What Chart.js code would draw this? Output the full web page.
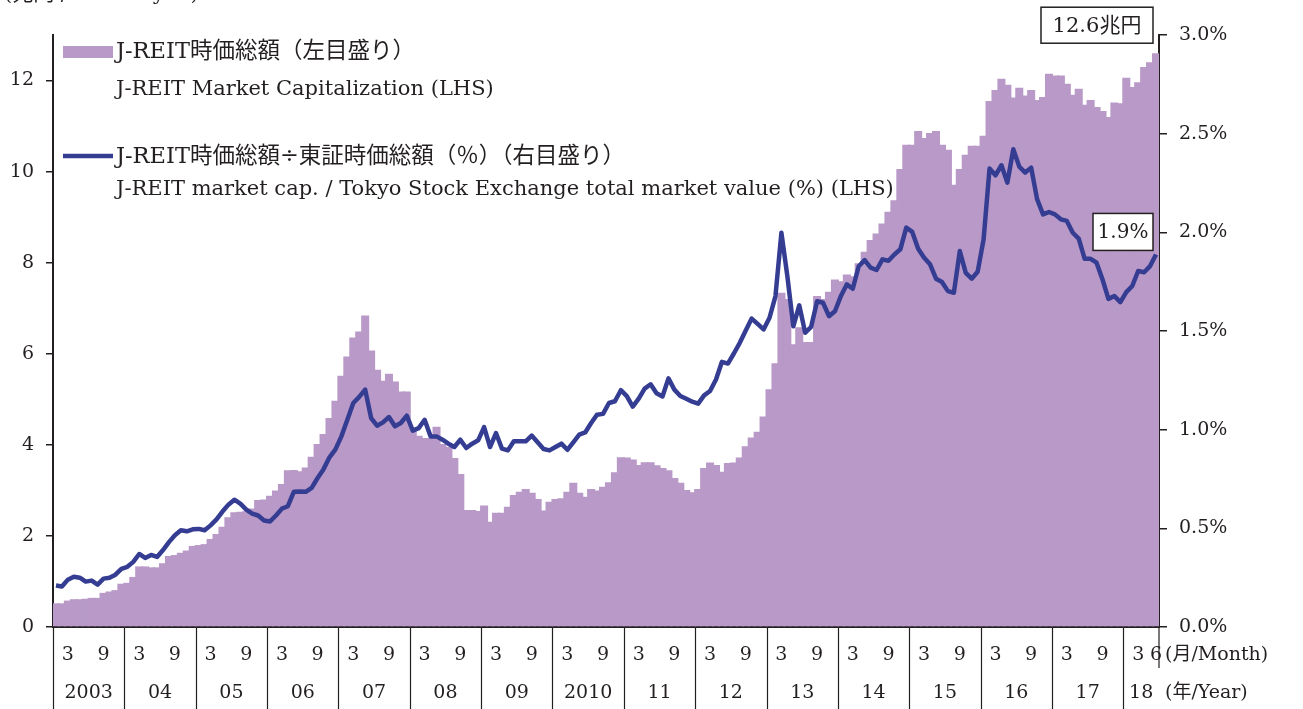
<!DOCTYPE html>
<html>
<head>
<meta charset="utf-8">
<script src="https://cdn.jsdelivr.net/npm/chart.js@4.4.1/dist/chart.umd.min.js"></script>
<style>
  html, body { margin: 0; padding: 0; background: #fff; overflow: hidden; }
</style>
</head>
<body>
<canvas id="chart" width="1303" height="709"></canvas>
<script>
const years = ["2003", "04", "05", "06", "07", "08", "09", "2010", "11", "12", "13", "14", "15", "16", "17", "18"];
const monthsInLastYear = 6;
const markedMonths = [3, 9];

// J-REIT market cap, trillion yen (left axis), Jan 2003 - Jun 2018
const capValues = [
  0.52, 0.52, 0.58, 0.61, 0.61, 0.62, 0.64, 0.64, 0.75, 0.78, 0.81, 0.95,
  0.97, 1.1, 1.33, 1.33, 1.31, 1.31, 1.4, 1.56, 1.58, 1.63, 1.68, 1.78,
  1.8, 1.82, 1.93, 2.04, 2.2, 2.41, 2.52, 2.53, 2.54, 2.6, 2.79, 2.8,
  2.88, 3.0, 3.14, 3.44, 3.45, 3.42, 3.5, 3.74, 4.02, 4.24, 4.59, 4.97,
  5.52, 5.94, 6.36, 6.49, 6.84, 6.07, 5.65, 5.41, 5.56, 5.39, 5.17, 5.17,
  4.3, 4.2, 4.15, 4.15, 4.4, 4.02, 3.95, 3.71, 3.36, 2.57, 2.57, 2.55,
  2.67, 2.31, 2.51, 2.51, 2.64, 2.9, 2.97, 3.03, 2.95, 2.81, 2.56, 2.75,
  2.81, 2.83, 2.97, 3.17, 2.95, 2.86, 3.03, 3.0, 3.08, 3.18, 3.4, 3.73,
  3.72, 3.68, 3.56, 3.62, 3.62, 3.55, 3.49, 3.44, 3.27, 3.17, 3.01, 2.96,
  3.03, 3.49, 3.61, 3.56, 3.41, 3.6, 3.61, 3.72, 3.97, 4.16, 4.29, 4.62,
  5.22, 5.79, 7.34, 7.2, 6.21, 6.58, 6.26, 6.26, 7.27, 7.2, 7.36, 7.63,
  7.59, 7.74, 7.7, 7.99, 8.24, 8.5, 8.64, 8.86, 9.12, 9.37, 10.06, 10.59,
  10.59, 10.89, 10.74, 10.85, 10.89, 10.59, 10.48, 9.71, 10.06, 10.37, 10.57, 10.57,
  10.79, 11.55, 11.79, 12.04, 11.91, 11.63, 11.84, 11.67, 11.79, 11.57, 11.64, 12.15,
  12.11, 12.11, 11.93, 11.69, 11.82, 11.47, 11.57, 11.42, 11.33, 11.2, 11.52, 11.5,
  12.06, 11.86, 11.96, 12.3, 12.4, 12.6
];

// J-REIT cap / TSE total market value, % (right axis)
const ratioValues = [
  0.21, 0.205, 0.24, 0.255, 0.25, 0.23, 0.235, 0.215, 0.245, 0.25, 0.265, 0.295,
  0.305, 0.33, 0.37, 0.35, 0.365, 0.355, 0.39, 0.43, 0.465, 0.49, 0.485, 0.495,
  0.497, 0.49, 0.515, 0.545, 0.585, 0.62, 0.645, 0.625, 0.595, 0.575, 0.565, 0.54,
  0.535, 0.565, 0.6, 0.612, 0.685, 0.687, 0.685, 0.705, 0.755, 0.8, 0.86, 0.9,
  0.966, 1.05, 1.135, 1.166, 1.203, 1.059, 1.02, 1.037, 1.064, 1.017, 1.034, 1.071,
  0.995, 1.008, 1.05, 0.966, 0.966, 0.949, 0.929, 0.912, 0.949, 0.907, 0.929, 0.946,
  1.013, 0.912, 0.983, 0.904, 0.895, 0.941, 0.941, 0.941, 0.97, 0.936, 0.902, 0.895,
  0.912, 0.929, 0.898, 0.936, 0.975, 0.986, 1.034, 1.076, 1.08, 1.135, 1.144, 1.2,
  1.17, 1.117, 1.157, 1.208, 1.23, 1.184, 1.168, 1.26, 1.203, 1.171, 1.157, 1.142,
  1.132, 1.174, 1.196, 1.254, 1.344, 1.335, 1.386, 1.44, 1.503, 1.563, 1.536, 1.508,
  1.567, 1.677, 1.998, 1.778, 1.524, 1.63, 1.491, 1.521, 1.651, 1.643, 1.575, 1.6,
  1.677, 1.736, 1.714, 1.828, 1.859, 1.821, 1.809, 1.863, 1.856, 1.888, 1.914, 2.024,
  2.002, 1.917, 1.871, 1.838, 1.765, 1.748, 1.702, 1.694, 1.905, 1.795, 1.765, 1.8,
  1.964, 2.323, 2.289, 2.34, 2.252, 2.421, 2.333, 2.303, 2.328, 2.168, 2.091, 2.103,
  2.091, 2.066, 2.058, 1.998, 1.968, 1.866, 1.866, 1.846, 1.761, 1.663, 1.677, 1.646,
  1.697, 1.728, 1.804, 1.798, 1.829, 1.888
];

const legendJa = ["J-REIT時価総額（左目盛り）", "J-REIT時価総額÷東証時価総額（％）（右目盛り）"];
const legendEn = ["J-REIT Market Capitalization (LHS)", "J-REIT market cap. / Tokyo Stock Exchange total market value (%) (LHS)"];
const unitLabel = "(兆円 / trillion yen)";
const monthAxisLabel = "(月/Month)";
const yearAxisLabel = "(年/Year)";

const barColor = "#b899c7";
const lineColor = "#353d93";
const ink = "#231f20";
const fontFamily = "'DejaVu Serif', 'Noto Sans CJK JP', serif";

// month labels like 2003/1 ... 2018/6
const monthLabels = [];
years.forEach((y, i) => {
  const full = i === 0 ? 2003 : 2000 + parseInt(y.slice(-2), 10);
  const n = i === years.length - 1 ? monthsInLastYear : 12;
  for (let m = 1; m <= n; m++) monthLabels.push(full + "/" + m);
});

const overlay = {
  id: "overlay",
  afterDraw(chart) {
    const c = chart.ctx;
    const xs = chart.scales.x;
    const yL = chart.scales.yL;
    const yR = chart.scales.yR;
    const area = chart.chartArea;
    const step = xs.getPixelForValue(1) - xs.getPixelForValue(0);
    const last = monthLabels.length - 1;
    c.save();
    c.fillStyle = ink;
    c.strokeStyle = ink;

    // x axis: month marks, year boxes
    c.font = "19px " + fontFamily;
    c.textAlign = "center";
    c.textBaseline = "middle";
    c.lineWidth = 1.2;
    years.forEach((y, i) => {
      const s = i * 12;
      const e = Math.min(s + 12, monthLabels.length);
      const x0 = xs.getPixelForValue(s) - step / 2;
      const x1 = xs.getPixelForValue(e - 1) + step / 2;
      c.beginPath();
      c.moveTo(Math.round(x0) + 0.5, area.bottom);
      c.lineTo(Math.round(x0) + 0.5, 709);
      c.stroke();
      c.fillText(y, (x0 + x1) / 2, 693);
    });
    c.beginPath();
    c.moveTo(area.right, area.bottom);
    c.lineTo(area.right, 668);
    c.stroke();
    monthLabels.forEach((lab, i) => {
      const m = parseInt(lab.split("/")[1], 10);
      if (markedMonths.includes(m) || i === last) {
        c.fillText(String(m), xs.getPixelForValue(i), 655);
      }
    });
    c.textAlign = "left";
    c.fillText(monthAxisLabel, area.right + 6, 655);
    c.fillText(yearAxisLabel, area.right + 6, 693);

    // unit label, cut at top edge
    c.font = "21px " + fontFamily;
    c.fillText(unitLabel, 4, -5);

    // legend
    c.fillStyle = barColor;
    c.fillRect(63, 46, 50, 12);
    c.strokeStyle = lineColor;
    c.lineWidth = 4.5;
    c.beginPath();
    c.moveTo(63, 156);
    c.lineTo(113, 156);
    c.stroke();
    c.fillStyle = ink;
    c.font = "22.5px " + fontFamily;
    c.fillText(legendJa[0], 116, 52);
    c.fillText(legendJa[1], 116, 157);
    c.font = "21px " + fontFamily;
    c.fillText(legendEn[0], 116, 90);
    c.fillText(legendEn[1], 116, 190);

    // end value boxes
    c.strokeStyle = ink;
    c.lineWidth = 1.5;
    c.textAlign = "center";
    const endX = xs.getPixelForValue(last) + step / 2 - 6;
    const capText = capValues[last].toFixed(1) + "兆円";
    const b1 = { w: 112, h: 36 };
    const b1y = yL.getPixelForValue(capValues[last]) - 10 - b1.h;
    c.fillStyle = "#fff";
    c.fillRect(endX - b1.w, b1y, b1.w, b1.h);
    c.strokeRect(endX - b1.w, b1y, b1.w, b1.h);
    c.fillStyle = ink;
    c.fillText(capText, endX - b1.w / 2, b1y + b1.h / 2 + 1);

    c.font = "20px " + fontFamily;
    const ratioText = ratioValues[last].toFixed(1) + "%";
    const b2 = { w: 60, h: 37 };
    const b2y = yR.getPixelForValue(ratioValues[last]) - 4 - b2.h;
    c.fillStyle = "#fff";
    c.fillRect(endX - b2.w, b2y, b2.w, b2.h);
    c.strokeRect(endX - b2.w, b2y, b2.w, b2.h);
    c.fillStyle = ink;
    c.fillText(ratioText, endX - b2.w / 2, b2y + b2.h / 2 + 1);
    c.restore();
  }
};

const ctx = document.getElementById("chart").getContext("2d");
new Chart(ctx, {
  type: "bar",
  data: {
    labels: monthLabels,
    datasets: [
      {
        type: "line",
        label: legendJa[1],
        data: ratioValues,
        yAxisID: "yR",
        borderColor: lineColor,
        borderWidth: 4.5,
        pointRadius: 0,
        tension: 0,
        borderJoinStyle: "round",
        order: 0,
      },
      {
        type: "bar",
        label: legendJa[0],
        data: capValues,
        yAxisID: "yL",
        backgroundColor: barColor,
        borderWidth: 0,
        barPercentage: 1.35,
        categoryPercentage: 1,
        order: 1,
      },
    ],
  },
  options: {
    responsive: false,
    animation: false,
    layout: { padding: { top: 35, left: 0, right: 0, bottom: 0 } },
    plugins: { legend: { display: false }, tooltip: { enabled: false } },
    scales: {
      x: {
        grid: { display: false },
        ticks: { display: false },
        border: { color: ink, width: 2 },
        afterFit(s) { s.height = 82; },
      },
      yL: {
        position: "left",
        min: 0,
        max: 13,
        ticks: { stepSize: 2, color: ink, padding: 12, font: { family: fontFamily, size: 19 } },
        grid: { drawOnChartArea: false, tickLength: 7, color: ink, lineWidth: 1.5 },
        border: { color: ink, width: 2 },
        afterBuildTicks(s) { s.ticks = s.ticks.filter((t) => t.value % 2 === 0); },
        afterFit(s) { s.width = 53; },
      },
      yR: {
        position: "right",
        min: 0,
        max: 3,
        ticks: {
          stepSize: 0.5,
          color: ink,
          padding: 12,
          font: { family: fontFamily, size: 19 },
          callback: (v) => v.toFixed(1) + "%",
        },
        grid: { drawOnChartArea: false, tickLength: 8, color: ink, lineWidth: 1.5 },
        border: { color: ink, width: 2 },
        afterFit(s) { s.width = 144; },
      },
    },
  },
  plugins: [overlay],
});
</script>
</body>
</html>
